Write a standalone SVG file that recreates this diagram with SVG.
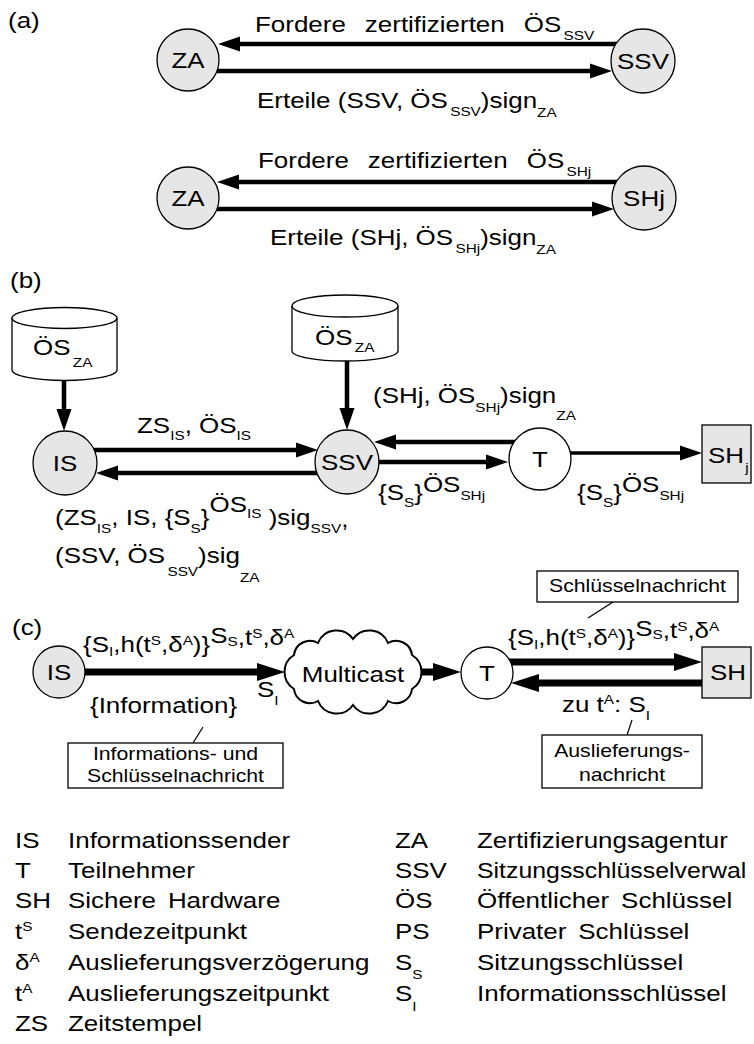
<svg xmlns="http://www.w3.org/2000/svg" width="754" height="1044" viewBox="0 0 754 1044">
<style>
  .t{font-family:"Liberation Sans",Arial,Helvetica,sans-serif;font-size:22px;fill:#000}
  .s{font-size:13px}
  .bx{font-size:18px}
  .m{text-anchor:middle}
  .node{fill:#e6e6e6;stroke:#000;stroke-width:1.3}
  .wnode{fill:#fff;stroke:#000;stroke-width:1.3}
  .db{fill:#fff;stroke:#000;stroke-width:1.3}
  .cloud{fill:#fff;stroke:#000;stroke-width:2}
  .note{fill:#fff;stroke:#000;stroke-width:1.3}
  .lead{stroke:#000;stroke-width:1.2;fill:none}
  .a{stroke:#000;stroke-width:4.5;fill:none;marker-end:url(#ah)}
  .a2{stroke:#000;stroke-width:3.5;fill:none;marker-end:url(#ah)}
  .a3{stroke:#000;stroke-width:7;fill:none;marker-end:url(#ahb)}
</style>
<defs>
  <marker id="ah" viewBox="0 -8 22 16" refX="1" refY="0" markerWidth="22" markerHeight="16" markerUnits="userSpaceOnUse" orient="auto">
    <path d="M0,-7.5 L22,0 L0,7.5 z" fill="#000"/>
  </marker>
  <marker id="ahb" viewBox="0 -10 28 20" refX="1" refY="0" markerWidth="28" markerHeight="20" markerUnits="userSpaceOnUse" orient="auto">
    <path d="M0,-9 L28,0 L0,9 z" fill="#000"/>
  </marker>
</defs>

<!-- panel labels -->
<text class="t" transform="translate(8 28) scale(1.18 1)">(a)</text>
<text class="t" transform="translate(10 288) scale(1.18 1)">(b)</text>
<text class="t" transform="translate(12 635) scale(1.18 1)">(c)</text>

<!-- connectors -->
<g id="connectors">
  <!-- (a) certificate requests -->
  <line class="a" x1="625" y1="44" x2="239" y2="44"/>
  <line class="a" x1="210" y1="71" x2="591" y2="71"/>
  <line class="a" x1="630" y1="182" x2="238" y2="182"/>
  <line class="a" x1="200" y1="209" x2="593" y2="209"/>
  <!-- (b) key distribution -->
  <line class="a" x1="64" y1="380" x2="64" y2="410"/>
  <line class="a" x1="347" y1="361" x2="347" y2="409"/>
  <line class="a" x1="80" y1="450" x2="297" y2="450"/>
  <line class="a" x1="330" y1="473" x2="117" y2="473"/>
  <line class="a" x1="530" y1="442" x2="395" y2="442"/>
  <line class="a" x1="360" y1="462" x2="487" y2="462"/>
  <line class="a2" x1="560" y1="453" x2="681" y2="453"/>
  <!-- (c) delivery -->
  <line class="a3" x1="70" y1="672" x2="258" y2="672"/>
  <line class="a3" x1="418" y1="672" x2="434" y2="672"/>
  <line class="a3" x1="505" y1="662" x2="675" y2="662"/>
  <line class="a3" x1="720" y1="683" x2="538" y2="683"/>
  <!-- note leaders -->
  <line class="lead" x1="203" y1="727" x2="193" y2="743"/>
  <line class="lead" x1="613" y1="602" x2="588" y2="618"/>
  <line class="lead" x1="632" y1="720" x2="627" y2="735"/>
</g>

<!-- (a) nodes -->
<g id="za1"><circle class="node" cx="188" cy="60" r="31"/><text class="t m" transform="translate(188 68) scale(1.18 1)">ZA</text></g>
<g id="ssv1"><circle class="node" cx="643" cy="61" r="32"/><text class="t m" transform="translate(643 69) scale(1.18 1)">SSV</text></g>
<g id="za2"><circle class="node" cx="188" cy="198" r="31"/><text class="t m" transform="translate(188 206) scale(1.18 1)">ZA</text></g>
<g id="shj1"><circle class="node" cx="644" cy="198" r="32"/><text class="t m" transform="translate(644 206) scale(1.18 1)">SHj</text></g>

<!-- (a) labels -->
<text class="t" transform="translate(255 32) scale(1.18 1)">Fordere <tspan dx="10">zertifizierten</tspan> <tspan dx="10">ÖS</tspan><tspan class="s" dx="2" dy="8">SSV</tspan></text>
<text class="t" transform="translate(257 108) scale(1.18 1)">Erteile (SSV, ÖS<tspan class="s" dx="2" dy="8">SSV</tspan><tspan dy="-8">)sign</tspan><tspan class="s" dy="9">ZA</tspan></text>
<text class="t" transform="translate(258 168) scale(1.18 1)">Fordere <tspan dx="10">zertifizierten</tspan> <tspan dx="10">ÖS</tspan><tspan class="s" dx="2" dy="8">SHj</tspan></text>
<text class="t" transform="translate(270 245) scale(1.18 1)">Erteile (SHj, ÖS<tspan class="s" dx="2" dy="8">SHj</tspan><tspan dy="-8">)sign</tspan><tspan class="s" dy="9">ZA</tspan></text>

<!-- (b) nodes -->
<g id="db1">
  <path class="db" d="M12,318 A52.5,10.5 0 0 1 117,318 L117,370 A52.5,10.5 0 0 1 12,370 Z"/>
  <path class="db" d="M12,318 A52.5,10.5 0 0 0 117,318"/>
  <text class="t" transform="translate(33 355) scale(1.18 1)">ÖS<tspan class="s" dx="2" dy="12">ZA</tspan></text>
</g>
<g id="db2">
  <path class="db" d="M292,306 A53,11 0 0 1 398,306 L398,351 A53,10 0 0 1 292,351 Z"/>
  <path class="db" d="M292,306 A53,11 0 0 0 398,306"/>
  <text class="t" transform="translate(315 345) scale(1.18 1)">ÖS<tspan class="s" dx="2" dy="7">ZA</tspan></text>
</g>
<g id="is_b"><circle class="node" cx="65" cy="463" r="32"/><text class="t m" transform="translate(65 471) scale(1.18 1)">IS</text></g>
<g id="ssv_b"><circle class="node" cx="347" cy="462" r="32"/><text class="t m" transform="translate(347 470) scale(1.18 1)">SSV</text></g>
<g id="t_b"><circle class="wnode" cx="540" cy="459" r="31"/><text class="t m" transform="translate(540 467) scale(1.18 1)">T</text></g>
<g id="shj_b"><rect class="node" x="702" y="425" width="49" height="58"/><text class="t" transform="translate(708 463) scale(1.18 1)">SH<tspan class="s" dx="1" dy="9">j</tspan></text></g>

<!-- (b) labels -->
<text class="t" transform="translate(137 433) scale(1.18 1)">ZS<tspan class="s" dy="7">IS</tspan><tspan dy="-7">, ÖS</tspan><tspan class="s" dy="7">IS</tspan></text>
<text class="t" transform="translate(373 403) scale(1.18 1)">(SHj, ÖS<tspan class="s" dy="9">SHj</tspan><tspan dy="-9">)sign</tspan><tspan class="s" dy="17">ZA</tspan></text>
<text class="t" transform="translate(378 500) scale(1.18 1)">{S<tspan class="s" dy="7">S</tspan><tspan dy="-7">}</tspan><tspan dy="-8">ÖS</tspan><tspan class="s" dy="8">SHj</tspan></text>
<text class="t" transform="translate(577 500) scale(1.18 1)">{S<tspan class="s" dy="7">S</tspan><tspan dy="-7">}</tspan><tspan dy="-8">ÖS</tspan><tspan class="s" dy="8">SHj</tspan></text>
<text class="t" transform="translate(55 525) scale(1.18 1)">(ZS<tspan class="s" dy="8">IS</tspan><tspan dy="-8">, IS, {S</tspan><tspan class="s" dy="8">S</tspan><tspan dy="-8">}</tspan><tspan dy="-13">ÖS</tspan><tspan class="s" dy="6">IS</tspan><tspan dy="7"> )sig</tspan><tspan class="s" dy="8">SSV</tspan><tspan dy="-6">,</tspan></text>
<text class="t" transform="translate(55 563) scale(1.18 1)">(SSV, ÖS<tspan class="s" dx="2" dy="13">SSV</tspan><tspan dy="-13">)sig</tspan><tspan class="s" dy="19">ZA</tspan></text>

<!-- (c) nodes -->
<g id="is_c"><circle class="node" cx="59" cy="672" r="26"/><text class="t m" transform="translate(59 680) scale(1.18 1)">IS</text></g>
<g id="multicast">
  <path class="cloud" d="M294,655 A16,16 0 0 1 318,643 A20,20 0 0 1 353,639 A20,20 0 0 1 388,643 A16,16 0 0 1 412,655 A20,20 0 0 1 412,689 A16,16 0 0 1 388,701 A20,20 0 0 1 353,705 A20,20 0 0 1 318,701 A16,16 0 0 1 294,689 A20,20 0 0 1 294,655 Z"/>
  <text class="t m" transform="translate(353 682) scale(1.18 1)">Multicast</text>
</g>
<g id="t_c"><circle class="wnode" cx="487" cy="673" r="26"/><text class="t m" transform="translate(487 681) scale(1.18 1)">T</text></g>
<g id="sh_c"><rect class="node" x="702" y="647" width="49" height="51"/><text class="t" transform="translate(710 680) scale(1.18 1)">SH</text></g>

<!-- (c) labels -->
<text class="t" transform="translate(83 652) scale(1.18 1)">{S<tspan class="s" dy="4">I</tspan><tspan dy="-4">,h(t</tspan><tspan class="s" dy="-7">S</tspan><tspan dy="7">,δ</tspan><tspan class="s" dy="-7">A</tspan><tspan dy="7">)}</tspan><tspan dy="-9">S</tspan><tspan class="s" dy="3">S</tspan><tspan dy="-1">,t</tspan><tspan class="s" dy="-7">S</tspan><tspan dy="7">,δ</tspan><tspan class="s" dy="-7">A</tspan></text>
<text class="t" transform="translate(508 645) scale(1.18 1)">{S<tspan class="s" dy="4">I</tspan><tspan dy="-4">,h(t</tspan><tspan class="s" dy="-7">S</tspan><tspan dy="7">,δ</tspan><tspan class="s" dy="-7">A</tspan><tspan dy="7">)}</tspan><tspan dy="-9">S</tspan><tspan class="s" dy="3">S</tspan><tspan dy="-1">,t</tspan><tspan class="s" dy="-7">S</tspan><tspan dy="7">,δ</tspan><tspan class="s" dy="-7">A</tspan></text>
<text class="t" transform="translate(257 697) scale(1.18 1)">S<tspan class="s" dy="8">I</tspan></text>
<text class="t" transform="translate(90 713) scale(1.18 1)">{Information}</text>
<text class="t" transform="translate(562 712) scale(1.18 1)">zu t<tspan class="s" dy="-8">A</tspan><tspan dy="8">: S</tspan><tspan class="s" dy="8">I</tspan></text>

<!-- (c) notes -->
<g id="note_info">
  <rect class="note" x="68" y="743" width="215" height="45"/>
  <text class="t bx m" transform="translate(175.5 760) scale(1.18 1)">Informations- und</text>
  <text class="t bx m" transform="translate(175.5 782) scale(1.18 1)">Schlüsselnachricht</text>
</g>
<g id="note_key">
  <rect class="note" x="537" y="571" width="201" height="31"/>
  <text class="t bx m" transform="translate(637.5 592) scale(1.18 1)">Schlüsselnachricht</text>
</g>
<g id="note_deliv">
  <rect class="note" x="542" y="735" width="160" height="53"/>
  <text class="t bx m" transform="translate(622 757) scale(1.18 1)">Auslieferungs-</text>
  <text class="t bx m" transform="translate(622 781) scale(1.18 1)">nachricht</text>
</g>

<!-- legend -->
<g id="legend">
  <text class="t" transform="translate(15 848) scale(1.18 1)">IS</text>
  <text class="t" transform="translate(68 848) scale(1.18 1)">Informationssender</text>
  <text class="t" transform="translate(15 878) scale(1.18 1)">T</text>
  <text class="t" transform="translate(68 878) scale(1.18 1)">Teilnehmer</text>
  <text class="t" transform="translate(15 908) scale(1.18 1)">SH</text>
  <text class="t" transform="translate(68 908) scale(1.18 1)">Sichere <tspan dx="4">Hardware</tspan></text>
  <text class="t" transform="translate(15 939) scale(1.18 1)">t<tspan class="s" dy="-8">S</tspan></text>
  <text class="t" transform="translate(68 939) scale(1.18 1)">Sendezeitpunkt</text>
  <text class="t" transform="translate(15 970) scale(1.18 1)">δ<tspan class="s" dy="-8">A</tspan></text>
  <text class="t" transform="translate(68 970) scale(1.18 1)">Auslieferungsverzögerung</text>
  <text class="t" transform="translate(15 1001) scale(1.18 1)">t<tspan class="s" dy="-8">A</tspan></text>
  <text class="t" transform="translate(68 1001) scale(1.18 1)">Auslieferungszeitpunkt</text>
  <text class="t" transform="translate(15 1031) scale(1.18 1)">ZS</text>
  <text class="t" transform="translate(68 1031) scale(1.18 1)">Zeitstempel</text>

  <text class="t" transform="translate(395 848) scale(1.18 1)">ZA</text>
  <text class="t" transform="translate(477 848) scale(1.18 1)">Zertifizierungsagentur</text>
  <text class="t" transform="translate(395 878) scale(1.18 1)">SSV</text>
  <text class="t" transform="translate(477 878) scale(1.13 1)">Sitzungsschlüsselverwal</text>
  <text class="t" transform="translate(395 908) scale(1.18 1)">ÖS</text>
  <text class="t" transform="translate(477 908) scale(1.18 1)">Öffentlicher <tspan dx="4">Schlüssel</tspan></text>
  <text class="t" transform="translate(395 939) scale(1.18 1)">PS</text>
  <text class="t" transform="translate(477 939) scale(1.18 1)">Privater <tspan dx="4">Schlüssel</tspan></text>
  <text class="t" transform="translate(395 970) scale(1.18 1)">S<tspan class="s" dy="9">S</tspan></text>
  <text class="t" transform="translate(477 970) scale(1.18 1)">Sitzungsschlüssel</text>
  <text class="t" transform="translate(395 1001) scale(1.18 1)">S<tspan class="s" dy="10">I</tspan></text>
  <text class="t" transform="translate(477 1001) scale(1.18 1)">Informationsschlüssel</text>
</g>
</svg>
